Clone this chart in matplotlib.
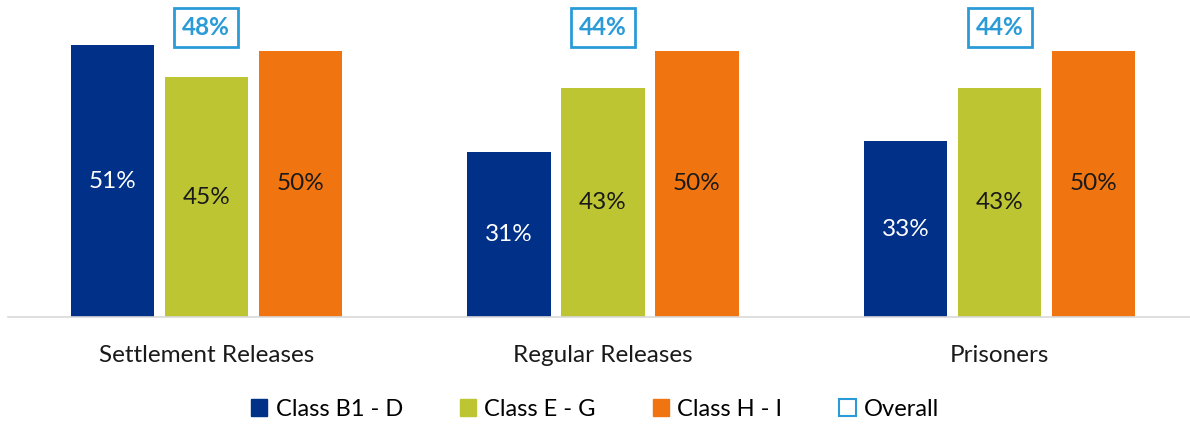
import matplotlib.pyplot as plt
from matplotlib.patches import Patch
import numpy as np

plt.rcParams['font.family'] = ['Lato', 'DejaVu Sans']

# data
categories = ['Settlement Releases', 'Regular Releases', 'Prisoners']
series_names = ['Class B1 - D', 'Class E - G', 'Class H - I']
class_b1_d = [51, 31, 33]
class_e_g = [45, 43, 43]
class_h_i = [50, 50, 50]
overall = [48, 44, 44]

colors = ['#003087', '#bdc632', '#f0740f']
label_colors = ['white', '#1a1a1a', '#1a1a1a']
box_color = '#2b9bd7'

fig = plt.figure(figsize=(11.9, 4.24), dpi=100)
ax = fig.add_axes([8 / 1190, 1 - 317 / 424, 1 - 8 / 1190, 317 / 424])

x = np.arange(len(categories))
width = 0.21
step = 0.237
for i, (vals, name) in enumerate(zip([class_b1_d, class_e_g, class_h_i], series_names)):
    xs = x + (i - 1) * step
    bars = ax.bar(xs, vals, width, color=colors[i], label=name)
    for xb, v in zip(xs, vals):
        ax.text(xb, v / 2, f'{v}%', ha='center', va='center',
                fontsize=17.5, color=label_colors[i])

# overall boxes above each group
for xc, v in zip(x, overall):
    ax.text(xc, 54.4, f'{v}%', ha='center', va='center', fontsize=17.5,
            fontweight='bold', color=box_color,
            bbox=dict(boxstyle='square,pad=0.33', fc='white', ec=box_color, lw=2))

ax.set_xlim(-0.5, 2.48)
ax.set_ylim(0, 59.5)
ax.set_yticks([])
ax.set_xticks(x)
ax.set_xticklabels(categories, fontsize=17.5, color='#1a1a1a')
ax.tick_params(axis='x', length=0, pad=20)
for s in ['top', 'right', 'left']:
    ax.spines[s].set_visible(False)
ax.spines['bottom'].set_color('#d9d9d9')
ax.spines['bottom'].set_linewidth(1.2)

handles = [Patch(fc=c, ec=c) for c in colors]
handles.append(Patch(fc='white', ec=box_color, lw=1.5))
fig.legend(handles, series_names + ['Overall'], loc='center',
           bbox_to_anchor=(0.5, 1 - 409 / 424), ncol=4, frameon=False,
           fontsize=17, handlelength=0.7, handleheight=0.7,
           handletextpad=0.35, columnspacing=2.4)

fig.savefig('out.png', dpi=100)
